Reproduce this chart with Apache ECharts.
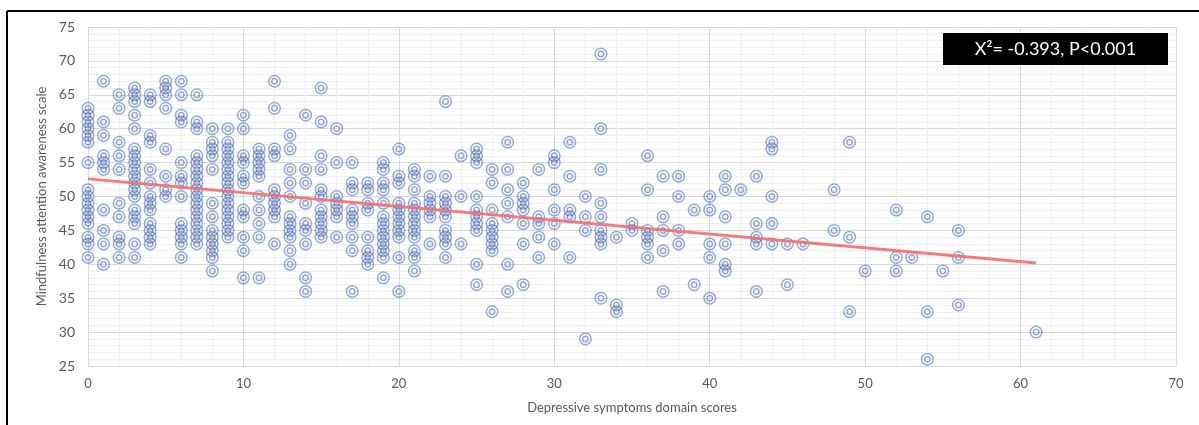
<!DOCTYPE html>
<html>
<head>
<meta charset="utf-8">
<script src="https://cdn.jsdelivr.net/npm/echarts@6/dist/echarts.min.js"></script>
<style>
html,body{margin:0;padding:0;background:#fff;}
#chart{width:1199px;height:425px;}
</style>
</head>
<body>
<div id="chart"></div>
<script>
// Depressive symptoms domain score (x) for each column of points
const columnX = [0,1,2,3,4,5,6,7,8,9,10,11,12,13,14,15,16,17,18,19,20,21,22,23,24,25,26,27,28,29,30,31,32,33,34,35,36,37,38,39,40,41,42,43,44,45,46,48,49,50,52,53,54,55,56,61];
// Mindfulness attention awareness scale values for each column
const columnY = [
  [63,62,61,60,59,58,55,51,50,49,48,47,46,44,43,41],
  [67,61,59,56,55,54,48,45,43,40],
  [65,63,58,56,54,49,47,44,43,41],
  [66,65,64,62,60,57,56,55,54,53,52,51,50,48,47,46,43,41],
  [65,64,59,58,54,52,50,49,48,46,45,44,43],
  [67,66,65,63,57,53,51,50],
  [67,65,62,61,55,53,52,50,46,45,44,43,41],
  [65,61,60,56,55,54,53,52,51,50,49,48,47,46,45,44,43],
  [60,58,57,56,54,49,47,45,44,43,42,41,39],
  [60,58,57,56,55,54,53,52,51,50,49,48,47,46,45,44],
  [62,60,56,55,53,52,48,47,44,42,38],
  [57,56,55,54,53,50,48,46,44,38],
  [67,63,57,56,51,50,49,48,47,43],
  [59,57,54,52,50,47,46,45,44,42,40],
  [62,54,52,49,46,45,43,38,36],
  [66,61,56,54,51,50,48,47,46,45,44],
  [60,55,50,49,48,47,44],
  [55,52,51,48,47,46,44,42,36],
  [52,51,49,48,44,42,41,40],
  [55,54,52,51,49,47,46,45,44,43,42,41,38],
  [57,53,52,49,48,47,46,45,44,41,36],
  [54,53,51,49,48,47,46,45,44,42,41,39],
  [53,50,49,48,47,43],
  [64,53,50,49,48,47,45,44,43,41],
  [56,50,43],
  [57,56,55,50,48,47,46,45,40,37],
  [54,52,48,46,45,44,43,42,33],
  [58,54,51,49,47,40,36],
  [52,50,49,48,46,43,37],
  [54,47,46,44,41],
  [56,55,51,48,46,43],
  [58,53,48,47,41],
  [50,47,45,29],
  [71,60,54,49,47,45,44,43,35],
  [44,34,33],
  [46,45],
  [56,51,45,44,43,41],
  [53,47,45,42,36],
  [53,50,45,43],
  [48,37],
  [50,48,43,41,35],
  [53,51,47,43,40,39],
  [51],
  [53,46,44,43,36],
  [58,57,50,46,43],
  [43,37],
  [43],
  [51,45],
  [58,44,33],
  [39],
  [48,41,39],
  [41],
  [47,33,26],
  [39],
  [45,41,34],
  [30]
];
// Linear trend line end points [x, y]
const trendLine = [[0, 52.6], [61, 40.2]];
const xTicks = [0,10,20,30,40,50,60,70];
const yTicks = [25,30,35,40,45,50,55,60,65,70,75];
const annotationText = 'X\u00b2= -0.393, P<0.001';
const xAxisTitle = 'Depressive symptoms domain scores';
const yAxisTitle = 'Mindfulness attention awareness scale';

const points = [];
columnX.forEach((x, i) => columnY[i].forEach(y => points.push([x, y])));

const FONT = 'Lato, "Liberation Sans", sans-serif';
const ringColor = 'rgba(38,78,170,0.6)';

const chart = echarts.init(document.getElementById('chart'), null, {renderer: 'canvas'});
chart.setOption({
  animation: false,
  backgroundColor: '#fff',
  grid: {left: 88, right: 23, top: 27, bottom: 59, containLabel: false},
  xAxis: {
    type: 'value', min: xTicks[0], max: xTicks[xTicks.length - 1], interval: 10,
    name: xAxisTitle, nameLocation: 'middle', nameGap: 35,
    nameTextStyle: {color: '#595959', fontSize: 13, fontFamily: FONT},
    axisLine: {show: true, lineStyle: {color: '#d9d9d9', width: 1}},
    axisTick: {show: false},
    axisLabel: {color: '#595959', fontSize: 13, fontFamily: FONT, margin: 11},
    splitLine: {show: true, lineStyle: {color: '#d9d9d9', width: 1}},
    minorTick: {show: false, splitNumber: 5},
    minorSplitLine: {show: true, lineStyle: {color: '#efefef', width: 1}}
  },
  yAxis: {
    type: 'value', min: yTicks[0], max: yTicks[yTicks.length - 1], interval: 5,
    name: yAxisTitle, nameLocation: 'middle', nameGap: 39, nameRotate: 90,
    nameTextStyle: {color: '#595959', fontSize: 13, fontFamily: FONT},
    axisLine: {show: true, lineStyle: {color: '#d9d9d9', width: 1}},
    axisTick: {show: false},
    axisLabel: {color: '#595959', fontSize: 14, fontFamily: FONT, margin: 13},
    splitLine: {show: true, lineStyle: {color: '#d9d9d9', width: 1}},
    minorTick: {show: false, splitNumber: 5},
    minorSplitLine: {show: true, lineStyle: {color: '#efefef', width: 1}}
  },
  series: [
    {
      type: 'scatter', data: points, symbol: 'circle', symbolSize: 11.5,
      itemStyle: {color: 'rgba(0,0,0,0)', borderColor: ringColor, borderWidth: 1.5},
      z: 2
    },
    {
      type: 'scatter', data: points, symbol: 'circle', symbolSize: 5.5,
      itemStyle: {color: 'rgba(0,0,0,0)', borderColor: ringColor, borderWidth: 1.5},
      z: 2
    },
    {
      type: 'line', data: trendLine, symbol: 'none',
      lineStyle: {color: 'rgba(244,110,110,0.9)', width: 3},
      z: 3
    }
  ],
  graphic: [
    {type: 'line', shape: {x1: 7, y1: 11, x2: 1199, y2: 11}, style: {stroke: '#000', lineWidth: 2}},
    {type: 'line', shape: {x1: 7, y1: 11, x2: 7, y2: 425}, style: {stroke: '#000', lineWidth: 2}},
    {type: 'rect', shape: {x: 943, y: 33, width: 225, height: 32}, style: {fill: '#000'}, z: 10},
    {type: 'text', x: 1055.5, y: 49, z: 11,
     style: {text: annotationText, fill: '#fff', font: '18px ' + FONT, align: 'center', verticalAlign: 'middle'}}
  ]
});
</script>
</body>
</html>
